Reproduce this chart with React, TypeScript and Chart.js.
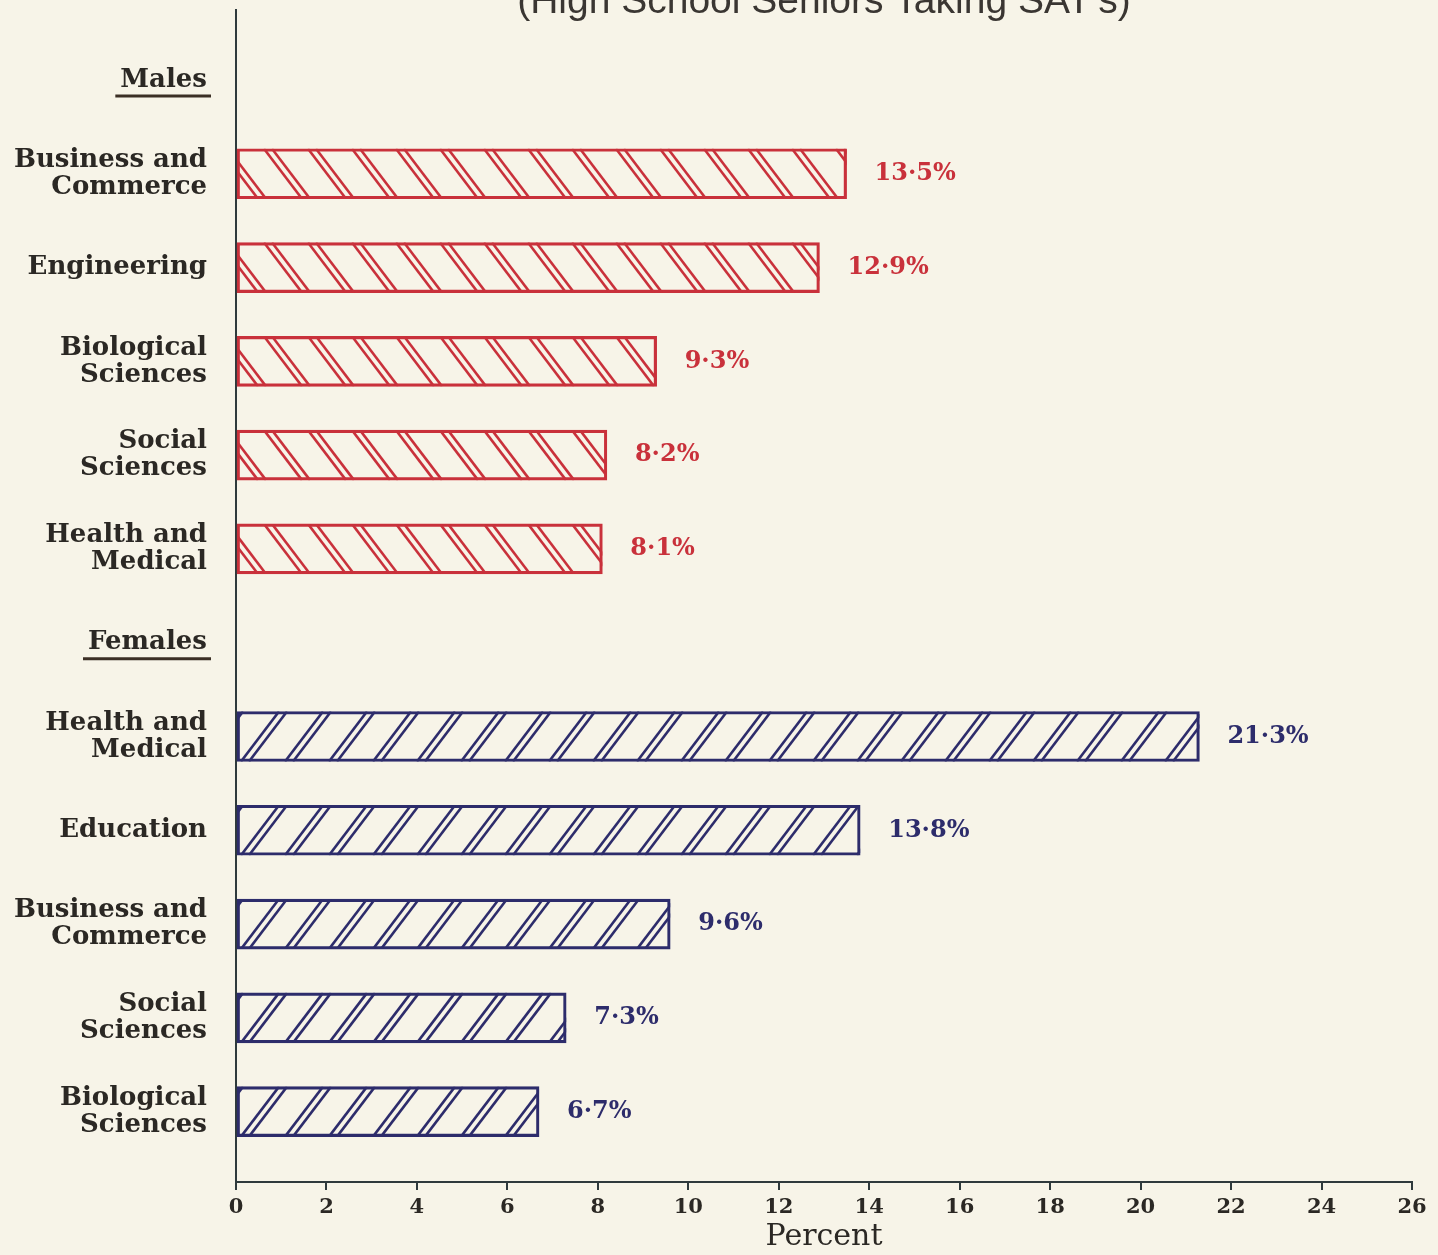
import React, { useEffect, useRef } from "react";
import { Chart, registerables } from "chart.js";

Chart.register(...registerables);

const TITLE = "(High School Seniors Taking SAT's)";
const X_TITLE = "Percent";

const ROW_LABELS: string[][] = [
  ["Males"],
  ["Business and", "Commerce"],
  ["Engineering"],
  ["Biological", "Sciences"],
  ["Social", "Sciences"],
  ["Health and", "Medical"],
  ["Females"],
  ["Health and", "Medical"],
  ["Education"],
  ["Business and", "Commerce"],
  ["Social", "Sciences"],
  ["Biological", "Sciences"],
];
const HEADER_ROWS = [0, 6];

const MALE_ROWS = [1, 2, 3, 4, 5];
const MALE_VALUES = [13.5, 12.9, 9.3, 8.2, 8.1];
const FEMALE_ROWS = [7, 8, 9, 10, 11];
const FEMALE_VALUES = [21.3, 13.8, 9.6, 7.3, 6.7];

const X_TICKS = [0, 2, 4, 6, 8, 10, 12, 14, 16, 18, 20, 22, 24, 26];

const RED = "#c9313b";
const BLUE = "#2d2c6b";
const INK = "#2b2824";
const AXIS = "#2f3a3c";
const BG = "#f7f4e8";
const SERIF = "'DejaVu Serif', serif";
const LABEL_SIZE = 26;

export default function App() {
  const ref = useRef<HTMLCanvasElement | null>(null);

  useEffect(() => {
    const canvas = ref.current;
    if (!canvas) return;

    const bgPlugin = {
      id: "bg",
      beforeDraw(chart: any) {
        const ctx = chart.ctx;
        ctx.save();
        ctx.fillStyle = BG;
        ctx.fillRect(0, 0, chart.width, chart.height);
        ctx.restore();
      },
    };

    const hatchPlugin = {
      id: "hatch",
      afterDatasetsDraw(chart: any) {
        const ctx = chart.ctx;
        chart.data.datasets.forEach((ds: any, di: number) => {
          const meta = chart.getDatasetMeta(di);
          const color = ds.borderColor;
          const forward = di === 1; // females "/"
          meta.data.forEach((bar: any) => {
            const p = bar.getProps(["x", "y", "base", "height"], true);
            const left = Math.min(p.base, p.x);
            const right = Math.max(p.base, p.x);
            const top = p.y - p.height / 2;
            const bottom = p.y + p.height / 2;
            const h = bottom - top;
            const slant = h * 0.76;
            const period = 44;
            ctx.save();
            ctx.beginPath();
            ctx.rect(left, top, right - left, h);
            ctx.clip();
            ctx.strokeStyle = color;
            ctx.lineWidth = 2.6;
            const phase = forward ? 42 : 27;
            for (let k = -2; left + phase + k * period < right + slant + 20; k++) {
              const x0 = left + phase + k * period;
              for (const off of [0, 8]) {
                ctx.beginPath();
                if (forward) {
                  ctx.moveTo(x0 + off, top);
                  ctx.lineTo(x0 + off - slant, bottom);
                } else {
                  ctx.moveTo(x0 + off, top);
                  ctx.lineTo(x0 + off + slant, bottom);
                }
                ctx.stroke();
              }
            }
            ctx.restore();
          });
        });
      },
    };

    const labelPlugin = {
      id: "valueLabels",
      afterDatasetsDraw(chart: any) {
        const ctx = chart.ctx;
        ctx.save();
        ctx.font = `bold 24px ${SERIF}`;
        ctx.textAlign = "left";
        ctx.textBaseline = "middle";
        chart.data.datasets.forEach((ds: any, di: number) => {
          const meta = chart.getDatasetMeta(di);
          ctx.fillStyle = ds.borderColor;
          meta.data.forEach((bar: any, i: number) => {
            const v = ds.data[i].x;
            const txt = v.toFixed(1).replace(".", "\u00b7") + "%";
            ctx.fillText(txt, bar.x + 28, bar.y);
          });
        });
        ctx.restore();
      },
    };

    const titlePlugin = {
      id: "topTitle",
      afterDraw(chart: any) {
        const ctx = chart.ctx;
        const area = chart.chartArea;
        ctx.save();
        ctx.font = `39px 'Liberation Sans', Arial, sans-serif`;
        ctx.fillStyle = "#3a3632";
        ctx.textAlign = "center";
        ctx.textBaseline = "alphabetic";
        ctx.fillText(TITLE, (area.left + area.right) / 2, 13);

        // underline section headers
        const yScale = chart.scales.y;
        ctx.font = `bold ${LABEL_SIZE}px ${SERIF}`;
        ctx.strokeStyle = "#3b2f25";
        ctx.lineWidth = 3;
        const rightEdge = area.left - 29;
        HEADER_ROWS.forEach((r) => {
          const w = ctx.measureText(ROW_LABELS[r][0]).width;
          const py = yScale.getPixelForValue(r) + 16;
          ctx.beginPath();
          ctx.moveTo(rightEdge - w - 5, py);
          ctx.lineTo(rightEdge + 4, py);
          ctx.stroke();
        });
        ctx.restore();
      },
    };

    const chart = new Chart(canvas, {
      type: "bar",
      data: {
        datasets: [
          {
            label: "Males",
            data: MALE_ROWS.map((r, i) => ({ x: MALE_VALUES[i], y: r })),
            backgroundColor: "rgba(0,0,0,0)",
            borderColor: RED,
            borderWidth: 2.5,
            borderSkipped: false,
            barThickness: 50,
            grouped: false,
          } as any,
          {
            label: "Females",
            data: FEMALE_ROWS.map((r, i) => ({ x: FEMALE_VALUES[i], y: r })),
            backgroundColor: "rgba(0,0,0,0)",
            borderColor: BLUE,
            borderWidth: 2.5,
            borderSkipped: false,
            barThickness: 50,
            grouped: false,
          } as any,
        ],
      },
      options: {
        indexAxis: "y",
        animation: false,
        responsive: false,
        maintainAspectRatio: false,
        layout: { padding: { top: 10, right: 26, left: 0, bottom: 0 } },
        plugins: {
          legend: { display: false },
          tooltip: { enabled: false },
          title: { display: false },
        },
        scales: {
          x: {
            type: "linear",
            min: 0,
            max: 26,
            afterBuildTicks: (s: any) => {
              s.ticks = X_TICKS.map((v) => ({ value: v }));
            },
            afterFit: (s: any) => {
              s.height = 73;
              s.paddingLeft = 0;
              s.paddingRight = 0;
            },
            border: { display: true, color: AXIS, width: 2 },
            grid: {
              drawOnChartArea: false,
              drawTicks: true,
              tickLength: 8,
              color: AXIS,
              lineWidth: 2,
            },
            ticks: {
              color: INK,
              font: { family: SERIF, size: 21, weight: "bold" },
              padding: 5,
              maxRotation: 0,
              autoSkip: false,
            },
            title: {
              display: true,
              text: X_TITLE,
              color: INK,
              font: { family: SERIF, size: 30 },
              padding: { top: 0, bottom: 0 },
            },
          },
          y: {
            type: "linear",
            reverse: true,
            offset: false,
            min: -0.746,
            max: 11.75,
            afterBuildTicks: (s: any) => {
              s.ticks = ROW_LABELS.map((_, i) => ({ value: i }));
            },
            afterFit: (s: any) => {
              s.width = 236;
              s.paddingTop = 0;
              s.paddingBottom = 0;
            },
            border: { display: true, color: AXIS, width: 2 },
            grid: { display: false, drawTicks: false, offset: false },
            ticks: {
              color: INK,
              font: { family: SERIF, size: LABEL_SIZE, weight: "bold", lineHeight: 1.04 },
              padding: 29,
              autoSkip: false,
              callback: (v: any) => ROW_LABELS[Math.round(v)] ?? "",
            },
          },
        },
      } as any,
      plugins: [bgPlugin, hatchPlugin, labelPlugin, titlePlugin],
    });

    return () => chart.destroy();
  }, []);

  return (
    <div style={{ position: "absolute", left: 0, top: 0, width: 1438, height: 1255 }}>
      <canvas ref={ref} width={1438} height={1255} style={{ width: 1438, height: 1255 }} />
    </div>
  );
}
